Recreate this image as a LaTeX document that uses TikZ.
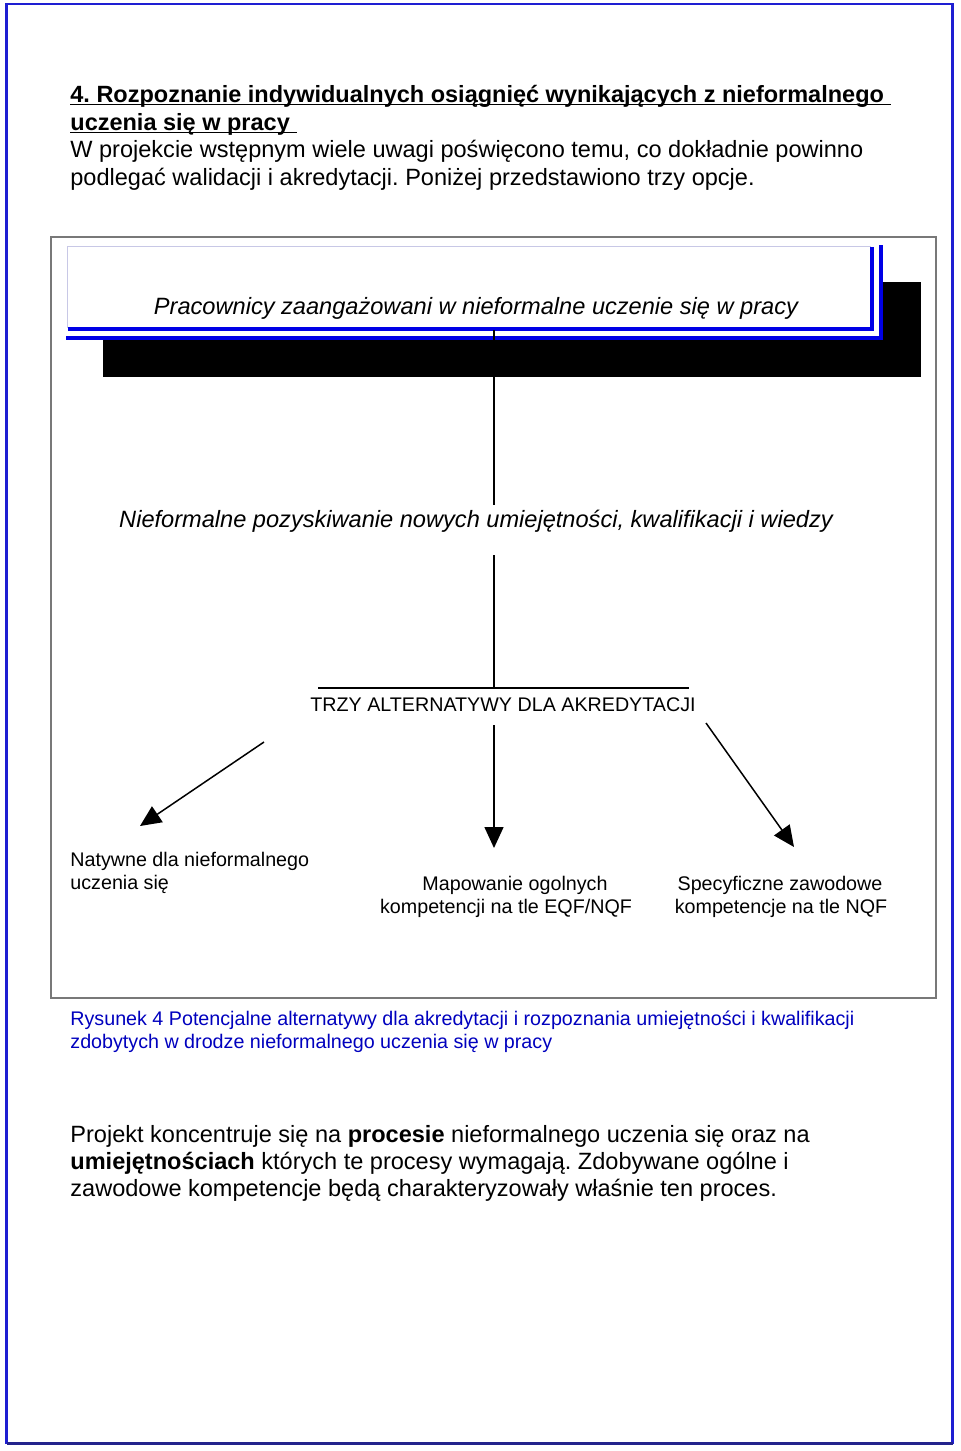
\documentclass[tikz,border=0pt]{standalone}
\usepackage{fontspec}
\setmainfont{Liberation Sans}
\usetikzlibrary{arrows.meta}
\definecolor{pageblue}{RGB}{30,30,210}
\definecolor{pagenavy}{RGB}{35,35,140}
\definecolor{boxblue}{RGB}{0,0,230}
\definecolor{boxlav}{RGB}{200,200,230}
\definecolor{capblue}{RGB}{0,0,190}
\definecolor{framegray}{RGB}{120,120,120}
\frenchspacing

\begin{document}
\begin{tikzpicture}[x=0.5pt,y=-0.5pt,
  txt/.style={inner sep=0pt},
  bodytxt/.style={txt, anchor=base west, font=\fontsize{11.77}{14}\selectfont},
  headtxt/.style={txt, anchor=base west, font=\fontsize{11.75}{14}\selectfont\bfseries},
  boxtxt/.style={txt, anchor=base, font=\fontsize{11.8}{14}\selectfont\itshape},
  smalltxt/.style={txt, font=\fontsize{9.85}{11.5}\selectfont},
  line/.style={black, line width=0.75pt},
  arr/.style={line, -{Triangle[length=10.5pt,width=9.5pt]}}]
\useasboundingbox (0,0) rectangle (960,1451);
% page frame
\draw[pageblue, line width=1.1pt] (6.5,4) rectangle (952.5,1443);
\draw[pagenavy, line width=1.5pt] (6.5,1443) -- (952.5,1443);
% heading and text above the figure
\node[headtxt] (head1) at (70,102) {4. Rozpoznanie indywidualnych osiągnięć wynikających z nieformalnego\ \null};
\node[headtxt] (head2) at (70,130) {uczenia się w pracy\ \null};
\draw[line width=0.6pt] ([yshift=-1.3pt]head1.base west) -- ([yshift=-1.3pt]head1.base east);
\draw[line width=0.6pt] ([yshift=-1.3pt]head2.base west) -- ([yshift=-1.3pt]head2.base east);
\node[bodytxt] (intro1) at (70,157) {W projekcie wstępnym wiele uwagi poświęcono temu, co dokładnie powinno};
\node[bodytxt] (intro2) at (70,185) {podlegać walidacji i akredytacji. Poniżej przedstawiono trzy opcje.};
% figure frame
\draw[framegray, line width=0.6pt] (51,237) rectangle (936,998);
% top box with shadow
\fill (103,282) rectangle (921,377);
\fill[white] (66,245) rectangle (883,340);
\draw[boxlav, line width=0.8pt] (67.5,328) |- (871,246.5);
\draw[boxblue, line width=2pt] (68,328.5) -| (872,247);
\draw[boxblue, line width=2pt] (66,338) -| (881.3,245);
\node[boxtxt] (workers) at (476,314) {Pracownicy zaangażowani w nieformalne uczenie się w pracy};
\node[boxtxt] (gain) at (476,527) {Nieformalne pozyskiwanie nowych umiejętności, kwalifikacji i wiedzy};
\node[smalltxt, anchor=base] (three) at (503,711) {TRZY ALTERNATYWY DLA AKREDYTACJI};
% connectors
\coordinate (boxbot) at (494,330);
\coordinate (gaintop) at (494,505);
\coordinate (gainbot) at (494,555);
\coordinate (bar) at (494,688);
\draw[line] (boxbot) -- (gaintop);
\draw[line] (gainbot) -- (bar);
\draw[line] (318,688) -- (689,688);
\coordinate (leftstart) at (264,742);
\coordinate (lefttip) at (140,826);
\coordinate (midstart) at (494,725);
\coordinate (midtip) at (494,848);
\coordinate (rightstart) at (706,723);
\coordinate (righttip) at (794,847);
\draw[arr] (leftstart) -- (lefttip);
\draw[arr] (midstart) -- (midtip);
\draw[arr] (rightstart) -- (righttip);
% the three options
\node[smalltxt, anchor=base west] (native1) at (70,866) {Natywne dla nieformalnego};
\node[smalltxt, anchor=base west] (native2) at (70,889) {uczenia się};
\node[smalltxt, anchor=base] (map1) at (515,890) {Mapowanie ogolnych};
\node[smalltxt, anchor=base] (map2) at (506,913) {kompetencji na tle EQF/NQF};
\node[smalltxt, anchor=base] (spec1) at (780,890) {Specyficzne zawodowe};
\node[smalltxt, anchor=base] (spec2) at (781,913) {kompetencje na tle NQF};
% caption
\node[smalltxt, anchor=base west, text=capblue] (cap1) at (70,1025) {Rysunek 4 Potencjalne alternatywy dla akredytacji i rozpoznania umiejętności i kwalifikacji};
\node[smalltxt, anchor=base west, text=capblue] (cap2) at (70,1048) {zdobytych w drodze nieformalnego uczenia się w pracy};
% closing paragraph
\node[bodytxt] (proj1) at (70,1142) {Projekt koncentruje się na \textbf{procesie} nieformalnego uczenia się oraz na};
\node[bodytxt] (proj2) at (70,1169) {\textbf{umiejętnościach} których te procesy wymagają. Zdobywane ogólne i};
\node[bodytxt] (proj3) at (70,1196) {zawodowe kompetencje będą charakteryzowały właśnie ten proces.};
\end{tikzpicture}
\end{document}
